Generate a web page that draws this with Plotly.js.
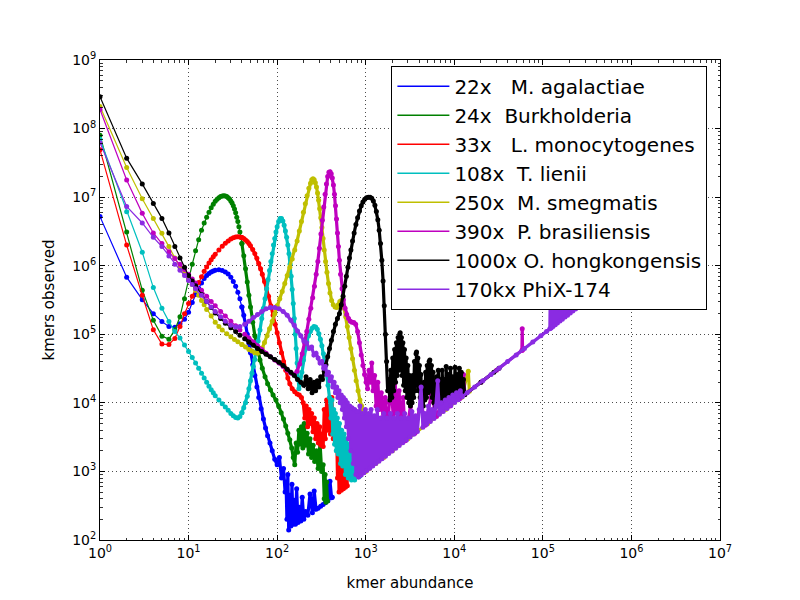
<!DOCTYPE html>
<html>
<head>
<meta charset="utf-8">
<script src="https://cdn.plot.ly/plotly-3.0.1.min.js"></script>
<style>html,body{margin:0;padding:0;background:#fff}#chart{width:800px;height:600px}</style>
</head>
<body>
<div id="chart"></div>
<script>
// ---- data: [kmer abundance, kmers observed] ----
const seriesLabels = [
  "22x\u00a0\u00a0\u00a0M. agalactiae",
  "24x\u00a0\u00a0Burkholderia",
  "33x\u00a0\u00a0\u00a0L. monocytogenes",
  "108x\u00a0\u00a0T. lienii",
  "250x\u00a0\u00a0M. smegmatis",
  "390x\u00a0\u00a0P. brasiliensis",
  "1000x O. hongkongensis",
  "170kx PhiX-174"
];

const agalactiae = [[1,5.2e6],[2,6.8e5],[3,3.2e5],[4,2.0e5],[5,1.53e5],[6,1.3e5],[7,1.27e5],[8,1.42e5],[9,1.65e5],[10,2.1e5],[11,2.9e5],[12,3.8e5],[13,4.7e5],[14,5.6e5],[15,6.5e5],[16,7.2e5],[17,7.7e5],[18,8.1e5],[19,8.4e5],[20,8.6e5],[22,8.7e5],[24,8.5e5],[26,8.1e5],[28,7.6e5],[30,6.8e5],[32,5.9e5],[34,5.0e5],[36,4.1e5],[38,3.3e5],[40,2.5e5],[42,1.9e5],[44,1.4e5],[46,1.0e5],[48,7.4e4],[50,5.4e4],[53,3.6e4],[56,2.5e4],[59,1.7e4],[62,1.2e4],[66,8.2e3],[70,5.8e3],[74,4.3e3],[78,3.3e3],[83,2.6e3],[88,2.0e3],[94,1.5e3],[100,1.25e3],[106,1.6e3],[112,800],[118,1.1e3],[123,500],[126,700],[129,200],[132,900],[135,140],[139,450],[143,160],[147,650],[151,170],[156,380],[161,170],[166,560],[172,180],[178,300],[185,190],[192,420],[200,200],[210,260],[222,230],[235,470],[250,250],[262,520],[275,280],[290,290],[310,310],[330,330],[350,350],[375,375],[395,720],[412,412],[420,420]];

const burkholderia = [[1,8e7],[2,3.1e6],[3,4.4e5],[4,1.6e5],[5,9.4e4],[6,8.5e4],[7,1.16e5],[8,1.8e5],[9,3.3e5],[10,6.2e5],[11,1.05e6],[12,1.65e6],[13,2.4e6],[14,3.3e6],[15,4.2e6],[16,5.1e6],[17,6.0e6],[18,7.0e6],[19,7.9e6],[20,8.7e6],[21,9.3e6],[22,9.8e6],[23,1.02e7],[24,1.04e7],[25,1.05e7],[26,1.04e7],[27,1.02e7],[28,9.8e6],[29,9.4e6],[30,8.8e6],[31,8.2e6],[32,7.5e6],[33,6.7e6],[34,5.9e6],[35,5.1e6],[36,4.4e6],[37,3.7e6],[38,3.1e6],[39,2.6e6],[40,2.1e6],[42,1.4e6],[44,9e5],[46,5.8e5],[48,3.7e5],[50,2.5e5],[53,1.5e5],[56,9.5e4],[60,6e4],[64,4.2e4],[68,3.2e4],[73,2.4e4],[78,1.9e4],[84,1.55e4],[90,1.3e4],[97,1.1e4],[104,9e3],[111,7.2e3],[118,5.8e3],[125,4.6e3],[132,3.6e3],[139,2.9e3],[146,2.2e3],[152,1.6e3],[158,1.25e3],[164,2.6e3],[170,1.9e3],[176,4e3],[182,2.5e3],[188,4.5e3],[195,2.2e3],[202,5e3],[210,2.4e3],[218,3.6e3],[226,1.8e3],[235,3e3],[245,1.6e3],[255,2.4e3],[265,1.4e3],[278,2e3],[290,1.1e3],[305,2.6e3],[318,1e3],[331,1.25e3],[340,400],[348,900],[355,355],[362,700],[370,370]];

const monocytogenes = [[1,4.9e7],[2,2.0e6],[3,3.7e5],[4,1.16e5],[5,7.2e4],[6,7.1e4],[7,8.7e4],[8,1.3e5],[9,2.0e5],[10,2.8e5],[11,3.6e5],[12,4.6e5],[13,5.7e5],[14,6.9e5],[15,8.3e5],[16,9.6e5],[17,1.1e6],[18,1.22e6],[19,1.35e6],[20,1.47e6],[22,1.7e6],[24,1.92e6],[26,2.12e6],[28,2.3e6],[30,2.45e6],[32,2.55e6],[34,2.62e6],[36,2.65e6],[38,2.63e6],[40,2.58e6],[42,2.5e6],[44,2.38e6],[46,2.25e6],[48,2.1e6],[50,1.95e6],[53,1.72e6],[56,1.5e6],[59,1.28e6],[62,1.08e6],[65,9e5],[68,7.5e5],[72,5.9e5],[76,4.6e5],[80,3.6e5],[85,2.6e5],[90,1.9e5],[95,1.4e5],[100,1.05e5],[106,7.5e4],[112,5.4e4],[118,4e4],[125,3e4],[132,2.3e4],[139,1.9e4],[148,1.6e4],[158,1.45e4],[168,1.35e4],[178,1.3e4],[188,1.2e4],[197,1.0e4],[205,6e3],[213,9e3],[221,4.5e3],[229,8e3],[237,5e3],[245,7e3],[254,3.8e3],[263,6e3],[272,3e3],[282,5e3],[292,2.6e3],[302,4.5e3],[312,2.4e3],[322,3.5e3],[331,2.3e3],[340,8e3],[350,3e3],[362,1.1e4],[375,4e3],[388,9e3],[400,3.5e3],[415,1.2e4],[430,3e3],[445,7e3],[460,2.5e3],[470,4e3],[480,800],[490,1.9e3],[500,500],[515,1.5e3],[530,530],[545,1.9e3],[560,560],[575,1.2e3],[590,590],[610,1e3],[620,620]];

const lienii = [[1,7e7],[2,6.1e6],[3,1.57e6],[4,4.8e5],[5,2.4e5],[6,1.53e5],[7,1.1e5],[8,8.8e4],[9,7e4],[10,5.6e4],[11,4.6e4],[12,3.8e4],[13,3.2e4],[14,2.7e4],[15,2.3e4],[16,2e4],[17,1.75e4],[18,1.55e4],[19,1.4e4],[20,1.27e4],[22,1.1e4],[24,9.7e3],[26,8.7e3],[28,7.8e3],[30,7e3],[32,6.5e3],[34,6.1e3],[36,6e3],[38,6.3e3],[40,7.2e3],[42,8.5e3],[44,1e4],[46,1.25e4],[48,1.6e4],[50,2.1e4],[52,2.7e4],[54,3.4e4],[56,4.3e4],[58,5.5e4],[61,8e4],[64,1.15e5],[67,1.7e5],[70,2.4e5],[73,3.3e5],[76,4.6e5],[79,6.3e5],[82,8.5e5],[85,1.15e6],[88,1.5e6],[91,2e6],[94,2.5e6],[97,3.1e6],[100,3.7e6],[104,4.4e6],[108,4.9e6],[112,4.9e6],[116,4.5e6],[120,3.9e6],[124,3.2e6],[128,2.6e6],[132,2e6],[136,1.5e6],[140,1.05e6],[144,7e5],[148,4.5e5],[152,2.8e5],[156,1.7e5],[160,1e5],[164,6.2e4],[168,3.8e4],[172,2.2e4],[176,1.6e4],[182,1.9e4],[190,2.8e4],[198,4.2e4],[207,6e4],[216,7.8e4],[226,9.5e4],[237,1.1e5],[248,1.22e5],[260,1.3e5],[272,1.28e5],[284,1.18e5],[296,1.02e5],[308,8.5e4],[320,6.8e4],[333,5.2e4],[346,3.8e4],[360,2.7e4],[375,1.8e4],[390,1.2e4],[405,6e3],[415,1.1e4],[425,3.5e3],[435,8e3],[445,2.5e3],[455,7e3],[465,2e3],[478,6e3],[490,1.8e3],[505,5e3],[520,1.3e3],[535,4e3],[550,1.2e3],[570,3.5e3],[590,900],[610,3e3],[635,800],[660,2.5e3],[690,750],[720,2e3],[750,750],[790,1.5e3],[830,830],[860,860]];

const smegmatis = [[1,2.1e8],[2,2.7e7],[3,9.5e6],[4,4.9e6],[5,2.97e6],[6,1.9e6],[7,1.3e6],[8,9.5e5],[9,7.8e5],[10,6.5e5],[11,5.3e5],[12,4.4e5],[13,3.7e5],[14,3.1e5],[15,2.7e5],[16,2.3e5],[18,1.85e5],[20,1.5e5],[22,1.3e5],[24,1.15e5],[27,1.02e5],[30,9.2e4],[33,8.4e4],[36,7.8e4],[40,7.1e4],[44,6.5e4],[48,6e4],[52,5.7e4],[56,5.4e4],[60,5.3e4],[64,5.5e4],[68,6.3e4],[72,7.6e4],[77,9.5e4],[82,1.2e5],[88,1.55e5],[94,2e5],[100,2.6e5],[107,3.3e5],[114,4.2e5],[122,5.5e5],[130,7.2e5],[139,9.5e5],[148,1.25e6],[158,1.7e6],[168,2.3e6],[178,3.2e6],[188,4.4e6],[198,6e6],[208,8e6],[218,1.05e7],[228,1.35e7],[238,1.6e7],[246,1.8e7],[254,1.85e7],[262,1.8e7],[270,1.62e7],[278,1.4e7],[286,1.15e7],[294,9e6],[302,6.8e6],[311,5e6],[320,3.6e6],[330,2.5e6],[340,1.7e6],[352,1.15e6],[365,8e5],[380,5.5e5],[395,4e5],[412,3.1e5],[430,2.7e5],[450,2.5e5],[470,2.45e5],[490,2.7e5],[510,3e5],[530,3.1e5],[550,2.9e5],[570,2.4e5],[595,1.8e5],[620,1.3e5],[650,9e4],[680,6.2e4],[710,4.4e4],[745,3e4],[780,2.1e4],[820,1.5e4],[860,1.1e4],[900,9e3],[950,4e3],[1000,1000],[1050,2.5e3],[1100,1100],[1300,1300],[1600,1600],[2000,2000],[3000,3000],[5000,5000],[8000,8000],[12000,12000],[14400,2.88e4],[14800,14800]];

const brasiliensis = [[1,1.9e8],[2,1.78e7],[3,5.8e6],[4,3.0e6],[5,2.1e6],[6,1.6e6],[7,1.27e6],[8,1.05e6],[9,8.8e5],[10,7.5e5],[11,6.4e5],[12,5.6e5],[14,4.4e5],[16,3.6e5],[18,3e5],[20,2.6e5],[23,2.15e5],[26,1.85e5],[30,1.55e5],[34,1.33e5],[38,1.15e5],[43,1e5],[48,8.8e4],[54,7.7e4],[60,6.8e4],[67,6e4],[75,5.3e4],[84,4.7e4],[94,4.2e4],[105,3.8e4],[117,3.4e4],[130,3e4],[143,2.7e4],[156,2.6e4],[168,2.9e4],[180,3.7e4],[192,5.2e4],[204,7.5e4],[216,1.1e5],[228,1.65e5],[240,2.4e5],[252,3.4e5],[264,5e5],[276,7.5e5],[288,1.15e6],[300,1.8e6],[312,2.9e6],[324,4.6e6],[336,7.2e6],[348,1.1e7],[360,1.55e7],[372,2e7],[384,2.3e7],[396,2.35e7],[408,2.2e7],[420,1.9e7],[432,1.5e7],[444,1.1e7],[456,7.5e6],[468,4.8e6],[480,3e6],[492,1.9e6],[505,1.2e6],[520,7.5e5],[540,4.6e5],[560,3.2e5],[585,2.4e5],[610,1.95e5],[640,1.7e5],[670,1.55e5],[700,1.5e5],[735,1.48e5],[770,1.4e5],[810,1.1e5],[850,7.5e4],[890,5e4],[930,3.5e4],[970,2.6e4],[1010,2e4],[1050,1.6e4],[1090,3e4],[1130,2e4],[1170,3.8e4],[1210,1.5e4],[1260,2.5e4],[1310,9e3],[1370,2e4],[1430,8e3],[1500,1.4e4],[1580,5e3],[1660,1.2e4],[1750,4e3],[1850,1e4],[1950,1.6e4],[2050,6e3],[2150,2e4],[2260,7e3],[2380,1.5e4],[2500,5e3],[2650,1.2e4],[2800,2800],[3200,9e3],[3600,3600],[4200,1.1e4],[4700,4700],[5500,1.3e4],[6300,6300],[8000,1.4e4],[9000,9000],[10500,1.6e4],[11500,11500],[12700,2.6e4],[13200,13200],[20000,20000],[30000,30000],[58000,58000],[58500,1.2e5],[59000,59000]];

const hongkongensis = [[1,2.9e8],[2,3.7e7],[3,1.56e7],[4,8.1e6],[5,4.9e6],[6,3.0e6],[7,1.9e6],[8,1.3e6],[9,9.5e5],[10,7.2e5],[11,6e5],[12,5.1e5],[14,3.8e5],[16,3e5],[18,2.45e5],[20,2.05e5],[23,1.7e5],[26,1.45e5],[30,1.25e5],[34,1.1e5],[38,9.7e4],[43,8.6e4],[48,7.7e4],[54,6.9e4],[60,6.2e4],[67,5.6e4],[75,5.1e4],[84,4.7e4],[94,4.3e4],[105,3.9e4],[117,3.5e4],[130,3.1e4],[143,2.8e4],[156,2.5e4],[170,2.2e4],[185,2e4],[200,1.8e4],[212,2.4e4],[224,1.6e4],[236,2.2e4],[248,1.4e4],[260,2e4],[272,1.5e4],[284,2.1e4],[296,1.7e4],[310,2.4e4],[325,2.2e4],[340,2.9e4],[356,3.6e4],[372,4.7e4],[390,6.2e4],[410,8.2e4],[432,1.1e5],[455,1.4e5],[480,1.7e5],[505,2e5],[530,2.7e5],[555,3.6e5],[580,5e5],[605,7e5],[630,9.5e5],[655,1.3e6],[680,1.7e6],[710,2.3e6],[740,3e6],[775,4e6],[810,5e6],[850,6.3e6],[890,7.5e6],[930,8.5e6],[975,9.3e6],[1020,9.8e6],[1070,1e7],[1120,1e7],[1170,9.6e6],[1220,8.8e6],[1270,7.6e6],[1320,6.2e6],[1370,4.7e6],[1420,3.3e6],[1470,2.1e6],[1520,1.2e6],[1570,6e5],[1620,2.6e5],[1670,1e5],[1720,4e4],[1770,1.5e4],[1820,2.2e4],[1870,1.1e4],[1920,3e4],[1970,1.2e4],[2020,4.5e4],[2070,1.5e4],[2120,6e4],[2170,2e4],[2220,7.5e4],[2270,2.5e4],[2320,9e4],[2370,3e4],[2420,1.0e5],[2450,1.05e5],[2480,4e4],[2530,9e4],[2580,2.5e4],[2630,7.5e4],[2680,1.8e4],[2740,6e4],[2800,1.5e4],[2860,4.5e4],[2920,1.2e4],[2990,3.5e4],[3060,1e4],[3130,2.5e4],[3200,9e3],[3270,1.8e4],[3340,1e4],[3410,2.5e4],[3480,1.2e4],[3550,4e4],[3620,1.5e4],[3700,5.2e4],[3750,5.5e4],[3800,2e4],[3880,4.5e4],[3960,1.5e4],[4040,3.5e4],[4120,1.2e4],[4200,2.6e4],[4290,1e4],[4380,1.8e4],[4470,9e3],[4560,2e4],[4650,1.1e4],[4750,2.8e4],[4850,1.2e4],[4950,3.5e4],[5050,1.4e4],[5200,4e4],[5300,4.2e4],[5400,1.5e4],[5520,3.5e4],[5640,1.2e4],[5760,2.8e4],[5880,1e4],[6000,2e4],[6150,9e3],[6300,2.4e4],[6450,9e3],[6600,3e4],[6750,1e4],[6900,2.2e4],[7100,8e3],[7300,3e4],[7500,1e4],[7700,2.2e4],[7900,9e3],[8100,3.4e4],[8300,1.1e4],[8550,2.6e4],[8800,1e4],[9050,3.2e4],[9300,1.1e4],[9600,2.4e4],[9900,1.1e4],[10200,3.3e4],[10500,1.2e4],[10800,2.6e4],[11100,1.2e4],[11400,3.2e4],[11700,1.3e4],[12000,2.8e4],[12300,1.3e4],[12700,2.2e4],[13100,13100],[20000,20000],[28000,28000],[32000,32000]];

const phix = [[1,6.2e7],[2,7.3e6],[3,4.2e6],[4,2.6e6],[5,1.9e6],[6,1.38e6],[7,1.05e6],[8,8.6e5],[9,7.2e5],[10,6.1e5],[11,5.3e5],[12,4.6e5],[14,3.7e5],[16,3e5],[18,2.5e5],[20,2.15e5],[23,1.8e5],[26,1.55e5],[30,1.35e5],[34,1.28e5],[38,1.3e5],[43,1.4e5],[48,1.55e5],[54,1.75e5],[60,1.95e5],[67,2.15e5],[75,2.35e5],[84,2.45e5],[94,2.45e5],[105,2.35e5],[117,2.15e5],[130,1.9e5],[143,1.6e5],[156,1.35e5],[170,1.12e5],[185,9.5e4],[200,8e4],[215,7.5e4],[230,6.2e4],[245,6.5e4],[260,5e4],[275,5.3e4],[290,4.5e4],[305,3.8e4],[320,4e4],[335,3.2e4],[350,3.4e4],[365,2.6e4],[380,2.8e4],[395,2.1e4],[410,2.4e4],[425,1.7e4],[440,2e4],[455,1.4e4],[470,1.7e4],[485,1.2e4],[500,1.5e4],[515,1e4],[530,1.3e4],[545,8e3],[560,1.2e4],[575,6e3],[590,1.1e4],[605,4.5e3],[620,1e4],[640,3e3],[660,9e3],[680,2e3],[700,8.5e3],[725,1.3e3],[750,8e3],[775,900],[800,7.5e3],[830,830],[860,9e3],[890,890],[920,7e3],[955,955],[990,8e3],[1030,1030],[1070,7e3],[1110,1110],[1150,8e3],[1200,1200],[1250,6.5e3],[1300,1300],[1350,8e3],[1410,1410],[1470,6e3],[1530,1530],[1600,7e3],[1670,1670],[1740,6e3],[1820,1820],[1900,7e3],[1990,1990],[2080,6e3],[2180,2180],[2280,7e3],[2390,2390],[2500,6e3],[2620,2620],[2750,7e3],[2880,2880],[3020,6e3],[3170,3170],[3320,7.5e3],[3480,3480],[3650,6.5e3],[3830,3830],[4020,8e3],[4220,1.7e4],[4420,4420],[4640,7e3],[4870,4870],[5110,9e3],[5360,5360],[5620,8e3],[5900,5900],[6200,9e3],[6500,2.1e4],[6800,6800],[7150,1e4],[7500,7500],[7900,1.1e4],[8300,8300],[8700,1.2e4],[9150,9150],[9600,1.3e4],[10100,10100],[10600,1.4e4],[11100,11100],[11700,1.5e4],[12300,12300],[14000,14000],[17000,17000],[21000,21000],[26000,26000],[32000,32000],[40000,40000],[50000,50000],[62000,62000],[77000,77000],[95000,95000],[110000,110000],[120000,120000],[121000,3.1e5],[124000,124000],[127000,3.2e5],[130000,130000],[134000,3.3e5],[138000,138000],[142000,3.4e5],[146000,146000],[151000,3.4e5],[156000,156000],[161000,3.5e5],[166000,166000],[172000,3.6e5],[178000,178000],[184000,3.5e5],[190000,190000],[197000,3.6e5],[204000,204000],[211000,3.6e5],[218000,218000],[226000,3.5e5],[234000,234000],[242000,3.4e5],[250000,250000],[258000,3.3e5],[266000,266000],[275000,3.2e5],[283000,283000],[290000,3e5]];

const tickValues = [1, 10, 100, 1e3, 1e4, 1e5, 1e6, 1e7, 1e8, 1e9];
const tickLabels = ["10<sup>0</sup>","10<sup>1</sup>","10<sup>2</sup>","10<sup>3</sup>","10<sup>4</sup>","10<sup>5</sup>","10<sup>6</sup>","10<sup>7</sup>","10<sup>8</sup>","10<sup>9</sup>"];

// ---- styling ----
const allSeries = [agalactiae, burkholderia, monocytogenes, lienii, smegmatis, brasiliensis, hongkongensis, phix];
const colors = ["#0000ff", "#008000", "#ff0000", "#00bfbf", "#bfbf00", "#bf00bf", "#000000", "#8a2be2"];
const FONT = "DejaVu Sans, sans-serif";
const DENSE_FROM = 40; // beyond this abundance the reference markers merge into a thick band

const traces = [];
allSeries.forEach((s, i) => {
  const sparse = s.filter(p => p[0] <= DENSE_FROM);
  const dense = s.filter(p => p[0] >= DENSE_FROM);
  traces.push({
    type: "scatter", mode: "lines+markers",
    x: dense.map(p => p[0]), y: dense.map(p => p[1]),
    line: {color: colors[i], width: 3.2},
    marker: {color: colors[i], size: 5},
    showlegend: false, hoverinfo: "skip"
  });
  traces.push({
    type: "scatter", mode: "lines+markers",
    x: sparse.map(p => p[0]), y: sparse.map(p => p[1]),
    line: {color: colors[i], width: 1.2},
    marker: {color: colors[i], size: 5},
    showlegend: false, hoverinfo: "skip"
  });
});
// legend entries (line only, like the reference)
allSeries.forEach((s, i) => {
  traces.push({
    type: "scatter", mode: "lines",
    x: [null], y: [null],
    name: seriesLabels[i],
    line: {color: colors[i], width: 1.3},
    showlegend: true
  });
});

const axisCommon = {
  type: "log",
  tickmode: "array",
  ticks: "inside", ticklen: 5, tickwidth: 1, tickcolor: "#000",
  mirror: "allticks", showline: true, linecolor: "#000", linewidth: 1,
  showgrid: true, gridcolor: "#000", gridwidth: 0.7, griddash: "1px,3px",
  zeroline: false,
  minor: {dtick: "D1", ticks: "inside", ticklen: 2.5, tickwidth: 0.8, tickcolor: "#000", showgrid: false},
  tickfont: {family: FONT, size: 14, color: "#000"}
};

const layout = {
  width: 800, height: 600,
  margin: {l: 100, r: 80, t: 60, b: 60},
  paper_bgcolor: "#fff", plot_bgcolor: "#fff",
  font: {family: FONT, color: "#000"},
  showlegend: true,
  xaxis: Object.assign({}, axisCommon, {
    range: [0, 7],
    tickvals: tickValues.slice(0, 8), ticktext: tickLabels.slice(0, 8),
    title: {text: "kmer abundance", font: {family: FONT, size: 15, color: "#000"}, standoff: 17}
  }),
  yaxis: Object.assign({}, axisCommon, {
    range: [2, 9],
    tickvals: tickValues.slice(2), ticktext: tickLabels.slice(2),
    title: {text: "kmers observed", font: {family: FONT, size: 15, color: "#000"}, standoff: 13}
  }),
  legend: {
    x: 0.47, y: 0.988, xanchor: "left", yanchor: "top",
    bgcolor: "#fff", bordercolor: "#000", borderwidth: 1,
    font: {family: FONT, size: 20, color: "#000"},
    itemwidth: 52, tracegroupgap: 0
  }
};

Plotly.newPlot("chart", traces, layout, {displayModeBar: false, staticPlot: true});
</script>
</body>
</html>
